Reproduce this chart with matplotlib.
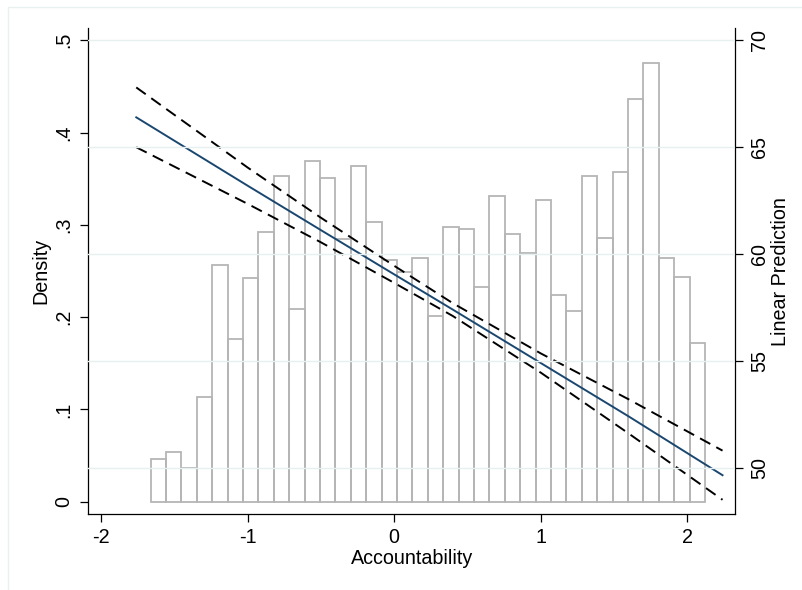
import numpy as np
import matplotlib
matplotlib.use('Agg')
import matplotlib.pyplot as plt
from matplotlib.patches import Rectangle

plt.rcParams['font.family'] = ['Liberation Sans', 'DejaVu Sans']

# histogram of Accountability (density), 36 bins
bin_start = -1.662
bin_end = 2.121
density = [0.046, 0.054, 0.037, 0.113, 0.257, 0.176, 0.242, 0.292, 0.353, 0.209,
           0.369, 0.351, 0.285, 0.364, 0.303, 0.262, 0.249, 0.264, 0.201, 0.298,
           0.296, 0.233, 0.331, 0.290, 0.270, 0.327, 0.224, 0.207, 0.353, 0.286,
           0.357, 0.436, 0.475, 0.264, 0.244, 0.172]

# linear prediction with 95% CI
xp = [-1.76, -1.0, -0.5, 0.0, 0.4, 1.0, 1.6, 2.24]
fit = [66.40, 63.20, 61.12, 59.05, 57.40, 54.90, 52.40, 49.65]
upper = [67.80, 64.05, 61.70, 59.45, 57.70, 55.35, 53.20, 50.80]
lower = [65.00, 62.35, 60.55, 58.65, 57.10, 54.45, 51.60, 48.50]

left_ticks = [0, 0.1, 0.2, 0.3, 0.4, 0.5]
left_labels = ['0', '.1', '.2', '.3', '.4', '.5']
right_ticks = [50, 55, 60, 65, 70]
x_ticks = [-2, -1, 0, 1, 2]

fs = 14.2
grid_col = '#e6f0f1'

fig = plt.figure(figsize=(8.03, 5.90), dpi=100)
fig.patches.append(Rectangle((8 / 803, -0.01), 1.0, 1 - 7 / 590 + 0.01,
                             transform=fig.transFigure, fill=False,
                             edgecolor='#e8f0f1', linewidth=1))
ax = fig.add_axes([0.110, 0.1283, 0.8053, 0.8242])
ax2 = ax.twinx()

edges = np.linspace(bin_start, bin_end, len(density) + 1)
ax.bar(edges[:-1], density, width=np.diff(edges), align='edge',
       facecolor='none', edgecolor='#b5b5b5', linewidth=1.3, zorder=2)

ax2.plot(xp, upper, color='black', lw=1.4, ls=(0, (6, 3.5)))
ax2.plot(xp, lower, color='black', lw=1.4, ls=(0, (6, 3.5)))
ax2.plot(xp, fit, color='#1a476f', lw=1.4)

ax.set_xlim(-2.087, 2.325)
ax.set_ylim(-0.0137, 0.5133)
ax2.set_ylim(47.82, 70.58)

ax.set_xticks(x_ticks)
ax.set_xticklabels([str(t) for t in x_ticks])
ax.set_yticks(left_ticks)
ax.set_yticklabels(left_labels, rotation=90, va='center')
ax2.set_yticks(right_ticks)
ax2.set_yticklabels([str(t) for t in right_ticks], rotation=90, va='center')

ax2.grid(True, axis='y', color=grid_col, linewidth=1)
ax2.set_axisbelow(False)

for a in (ax, ax2):
    a.spines['top'].set_visible(False)
    a.tick_params(length=6, width=0.9, labelsize=fs, pad=5)
    for s in ('left', 'right', 'bottom'):
        a.spines[s].set_linewidth(0.9)
ax.spines['right'].set_visible(False)
ax2.spines['left'].set_visible(False)
ax2.spines['bottom'].set_visible(False)
ax.tick_params(axis='x', pad=4)

ax.set_xlabel('Accountability', fontsize=fs, labelpad=1)
ax.set_ylabel('Density', fontsize=fs, labelpad=2.5)
ax2.set_ylabel('Linear Prediction', fontsize=fs, labelpad=1)

fig.savefig('out.png', dpi=100)
